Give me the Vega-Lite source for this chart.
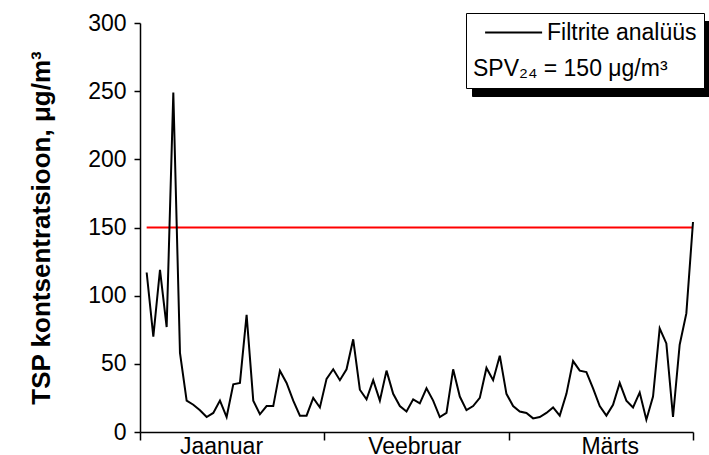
{
  "$schema": "https://vega.github.io/schema/vega-lite/v6.json",
  "width": 553,
  "height": 409,
  "autosize": "none",
  "padding": {"left": 140, "top": 23, "right": 16, "bottom": 23},
  "datasets": {
    "tsp": [
      {"day": 1, "tsp": 117}, {"day": 2, "tsp": 70}, {"day": 3, "tsp": 119}, {"day": 4, "tsp": 77},
      {"day": 5, "tsp": 249}, {"day": 6, "tsp": 58}, {"day": 7, "tsp": 23}, {"day": 8, "tsp": 20},
      {"day": 9, "tsp": 16}, {"day": 10, "tsp": 11}, {"day": 11, "tsp": 14}, {"day": 12, "tsp": 23},
      {"day": 13, "tsp": 11}, {"day": 14, "tsp": 35}, {"day": 15, "tsp": 36}, {"day": 16, "tsp": 86},
      {"day": 17, "tsp": 23}, {"day": 18, "tsp": 13}, {"day": 19, "tsp": 19}, {"day": 20, "tsp": 19},
      {"day": 21, "tsp": 45}, {"day": 22, "tsp": 36}, {"day": 23, "tsp": 23}, {"day": 24, "tsp": 12},
      {"day": 25, "tsp": 12}, {"day": 26, "tsp": 25}, {"day": 27, "tsp": 18}, {"day": 28, "tsp": 39},
      {"day": 29, "tsp": 46}, {"day": 30, "tsp": 38}, {"day": 31, "tsp": 46}, {"day": 32, "tsp": 68},
      {"day": 33, "tsp": 31}, {"day": 34, "tsp": 24}, {"day": 35, "tsp": 38}, {"day": 36, "tsp": 23},
      {"day": 37, "tsp": 45}, {"day": 38, "tsp": 28}, {"day": 39, "tsp": 19}, {"day": 40, "tsp": 15},
      {"day": 41, "tsp": 24}, {"day": 42, "tsp": 21}, {"day": 43, "tsp": 32}, {"day": 44, "tsp": 23},
      {"day": 45, "tsp": 11}, {"day": 46, "tsp": 14}, {"day": 47, "tsp": 46}, {"day": 48, "tsp": 26},
      {"day": 49, "tsp": 16}, {"day": 50, "tsp": 19}, {"day": 51, "tsp": 25}, {"day": 52, "tsp": 47},
      {"day": 53, "tsp": 38}, {"day": 54, "tsp": 56}, {"day": 55, "tsp": 28}, {"day": 56, "tsp": 19},
      {"day": 57, "tsp": 15}, {"day": 58, "tsp": 14}, {"day": 59, "tsp": 10}, {"day": 60, "tsp": 11},
      {"day": 61, "tsp": 14}, {"day": 62, "tsp": 18}, {"day": 63, "tsp": 12}, {"day": 64, "tsp": 28},
      {"day": 65, "tsp": 52}, {"day": 66, "tsp": 45}, {"day": 67, "tsp": 44}, {"day": 68, "tsp": 32},
      {"day": 69, "tsp": 19}, {"day": 70, "tsp": 12}, {"day": 71, "tsp": 20}, {"day": 72, "tsp": 36},
      {"day": 73, "tsp": 23}, {"day": 74, "tsp": 18}, {"day": 75, "tsp": 29}, {"day": 76, "tsp": 9},
      {"day": 77, "tsp": 26}, {"day": 78, "tsp": 76}, {"day": 79, "tsp": 65}, {"day": 80, "tsp": 11},
      {"day": 81, "tsp": 64}, {"day": 82, "tsp": 87}, {"day": 83, "tsp": 154}
    ],
    "limit": [{"start": 1, "end": 83, "value": 150}]
  },
  "config": {
    "view": {"stroke": null},
    "font": "Liberation Sans",
    "axis": {
      "grid": false,
      "domainColor": "black",
      "tickColor": "black",
      "labelColor": "black",
      "titleColor": "black",
      "labelFont": "Liberation Sans",
      "titleFont": "Liberation Sans",
      "labelFontSize": 23,
      "domainWidth": 1.5,
      "tickWidth": 1.5
    }
  },
  "layer": [
    {
      "data": {"name": "limit"},
      "mark": {"type": "rule", "color": "#ff0000", "strokeWidth": 2},
      "encoding": {
        "x": {"field": "start", "type": "quantitative"},
        "x2": {"field": "end"},
        "y": {"field": "value", "type": "quantitative"},
        "opacity": {
          "datum": "SPV",
          "type": "ordinal",
          "scale": {"range": [1, 1]},
          "legend": {
            "orient": "none",
            "legendX": 332,
            "legendY": -2,
            "zindex": 1,
            "fillColor": "black",
            "strokeColor": "black",
            "padding": 7,
            "title": "\u00a0SPV₂₄ = 150 μg/m³",
            "titleOrient": "bottom",
            "titleAnchor": "start",
            "titleFont": "Liberation Sans",
            "titleFontSize": 23,
            "titleFontWeight": "normal",
            "titleColor": "black",
            "titleLimit": 500,
            "titlePadding": 13,
            "labelExpr": "'Filtrite analüüs  '",
            "labelFont": "Liberation Sans",
            "labelFontSize": 23,
            "labelColor": "black",
            "labelLimit": 500,
            "labelOffset": 38,
            "symbolType": "M-1,0H4",
            "symbolSize": 520,
            "symbolStrokeWidth": 2,
            "symbolStrokeColor": "black",
            "symbolOffset": 11
          }
        }
      }
    },
    {
      "data": {"name": "tsp"},
      "mark": {"type": "line", "strokeWidth": 2},
      "encoding": {
        "x": {
          "field": "day",
          "type": "quantitative",
          "scale": {"domain": [0, 83], "nice": false, "zero": false},
          "axis": {
            "title": null,
            "values": [0, 27.6667, 55.3333, 83],
            "tickSize": 8,
            "labelPadding": -5,
            "labelAlign": "center",
            "labelOverlap": false,
            "labelBound": false,
            "labelFlush": false,
            "labelExpr": "datum.value < 1 ? 'Jaanuar' : datum.value < 30 ? 'Veebruar' : datum.value < 60 ? 'Märts' : ''",
            "labelOffset": {
              "condition": [
                {"test": "datum.value < 1", "value": 81},
                {"test": "datum.value < 30", "value": 90}
              ],
              "value": 101
            }
          }
        },
        "y": {
          "field": "tsp",
          "type": "quantitative",
          "scale": {"domain": [0, 300], "nice": false},
          "axis": {
            "title": "TSP kontsentratsioon, μg/m³",
            "titleFontSize": 26,
            "titleFontWeight": "bold",
            "titlePadding": 33,
            "values": [0, 50, 100, 150, 200, 250, 300],
            "tickSize": 6,
            "labelPadding": 8
          }
        },
        "color": {
          "datum": "Filtrite analüüs",
          "type": "nominal",
          "scale": {"range": ["black"]},
          "legend": {
            "orient": "none",
            "legendX": 326,
            "legendY": -10,
            "zindex": 2,
            "fillColor": "white",
            "strokeColor": "black",
            "padding": 7,
            "title": "\u00a0SPV₂₄ = 150 μg/m³",
            "titleOrient": "bottom",
            "titleAnchor": "start",
            "titleFont": "Liberation Sans",
            "titleFontSize": 23,
            "titleFontWeight": "normal",
            "titleColor": "black",
            "titleLimit": 500,
            "titlePadding": 13,
            "labelExpr": "datum.label + '  '",
            "labelFont": "Liberation Sans",
            "labelFontSize": 23,
            "labelColor": "black",
            "labelLimit": 500,
            "labelOffset": 38,
            "symbolType": "M-1,0H4",
            "symbolSize": 520,
            "symbolStrokeWidth": 2,
            "symbolOffset": 11
          }
        }
      }
    }
  ]
}
